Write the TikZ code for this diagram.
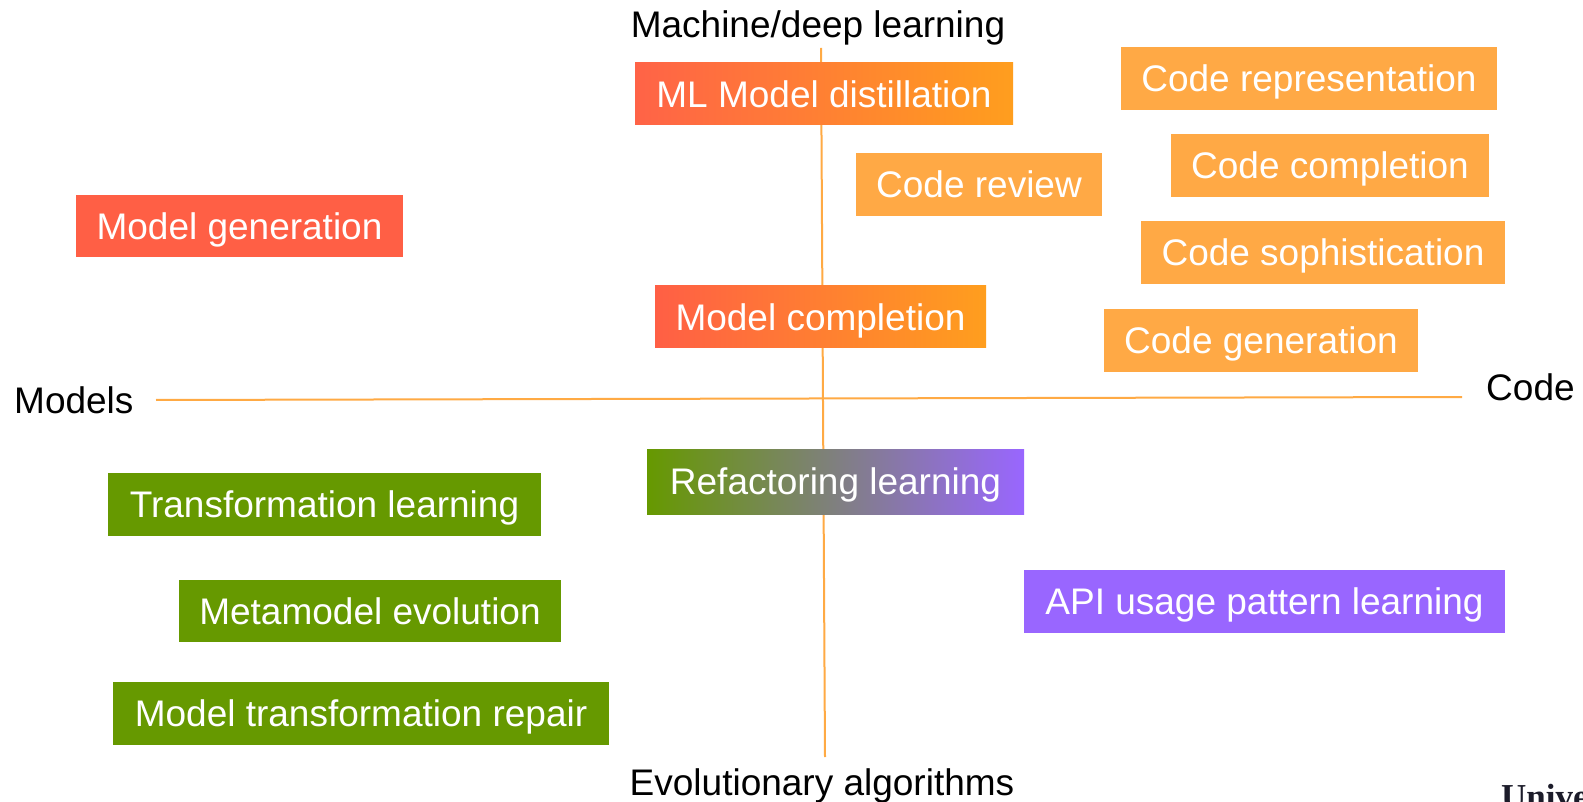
\documentclass[tikz,border=0pt]{standalone}
\usepackage{fontspec}
\setmainfont{Liberation Sans}
\newfontfamily\serifface{Liberation Serif}
\definecolor{axisorange}{HTML}{FFAA44}
\definecolor{boxorange}{HTML}{FFA945}
\definecolor{boxred}{HTML}{FF5F45}
\definecolor{gradred}{HTML}{FF6347}
\definecolor{gradorange}{HTML}{FF9E1E}
\definecolor{boxgreen}{HTML}{669900}
\definecolor{boxpurple}{HTML}{9966FF}
\definecolor{logotext}{HTML}{1C1C2A}
\tikzset{
  box/.style={inner sep=0pt, text=white, font=\fontsize{37}{44}\selectfont, text height=26.5pt, text depth=0pt, anchor=center},
  lbl/.style={inner sep=0pt, text=black, font=\fontsize{37}{44}\selectfont, text height=26.5pt, text depth=0pt},
  axisline/.style={draw=axisorange, line width=2pt}
}
\begin{document}
\begin{tikzpicture}[x=1pt,y=-1pt]
\useasboundingbox (0,0) rectangle (1583,802);
\fill[white] (0,0) rectangle (1583,802);
% axes
\coordinate (vtop) at (821,48);
\coordinate (vbot) at (825,757);
\coordinate (hleft) at (156,400);
\coordinate (hright) at (1462,397);
\draw[axisline] (vtop) -- (vbot);
\draw[axisline] (hleft) -- (hright);
% axis labels
\node[lbl, anchor=center] (mdl) at (818,24) {Machine/deep learning};
\node[lbl, anchor=center] (evo) at (822,782) {Evolutionary algorithms};
\node[lbl, anchor=west] (models) at (14,400) {Models};
\node[lbl, anchor=west] (code) at (1486,387) {Code};
% boxes
\node[box, left color=gradred, right color=gradorange, minimum width=378pt, minimum height=62pt] (mld) at (824,94) {ML Model distillation};
\node[box, fill=boxorange, minimum width=376pt, minimum height=63pt] (crep) at (1309,78.5) {Code representation};
\node[box, fill=boxorange, minimum width=318pt, minimum height=63pt] (ccomp) at (1330,165.5) {Code completion};
\node[box, fill=boxorange, minimum width=246pt, minimum height=63pt] (crev) at (979,184.5) {Code review};
\node[box, fill=boxred, minimum width=327pt, minimum height=62pt] (mgen) at (239.5,226) {Model generation};
\node[box, fill=boxorange, minimum width=364pt, minimum height=63pt] (csoph) at (1323,252.5) {Code sophistication};
\node[box, left color=boxred, right color=gradorange, minimum width=331pt, minimum height=62pt] (mcomp) at (820.5,317) {Model completion};
\node[box, fill=boxorange, minimum width=314pt, minimum height=63pt] (cgen) at (1261,340.5) {Code generation};
\node[box, left color=boxgreen, right color=boxpurple, minimum width=377pt, minimum height=65pt] (refl) at (835.5,481.5) {Refactoring learning};
\node[box, fill=boxgreen, minimum width=433pt, minimum height=63pt] (tl) at (324.5,504.5) {Transformation learning};
\node[box, fill=boxpurple, minimum width=481pt, minimum height=63pt] (api) at (1264.5,601.5) {API usage pattern learning};
\node[box, fill=boxgreen, minimum width=382pt, minimum height=62pt] (mme) at (370,611) {Metamodel evolution};
\node[box, fill=boxgreen, minimum width=496pt, minimum height=63pt] (mtr) at (361,713.5) {Model transformation repair};
% cut-off logo text (cut off in the reference too)
\begin{scope}
\clip (0,0) rectangle (1583,802);
\node[inner sep=0pt, anchor=base west, text=logotext, font=\serifface\bfseries\fontsize{35}{38}\selectfont] (logo) at (1501,808.5) {Unive};
\end{scope}
\end{tikzpicture}
\end{document}
